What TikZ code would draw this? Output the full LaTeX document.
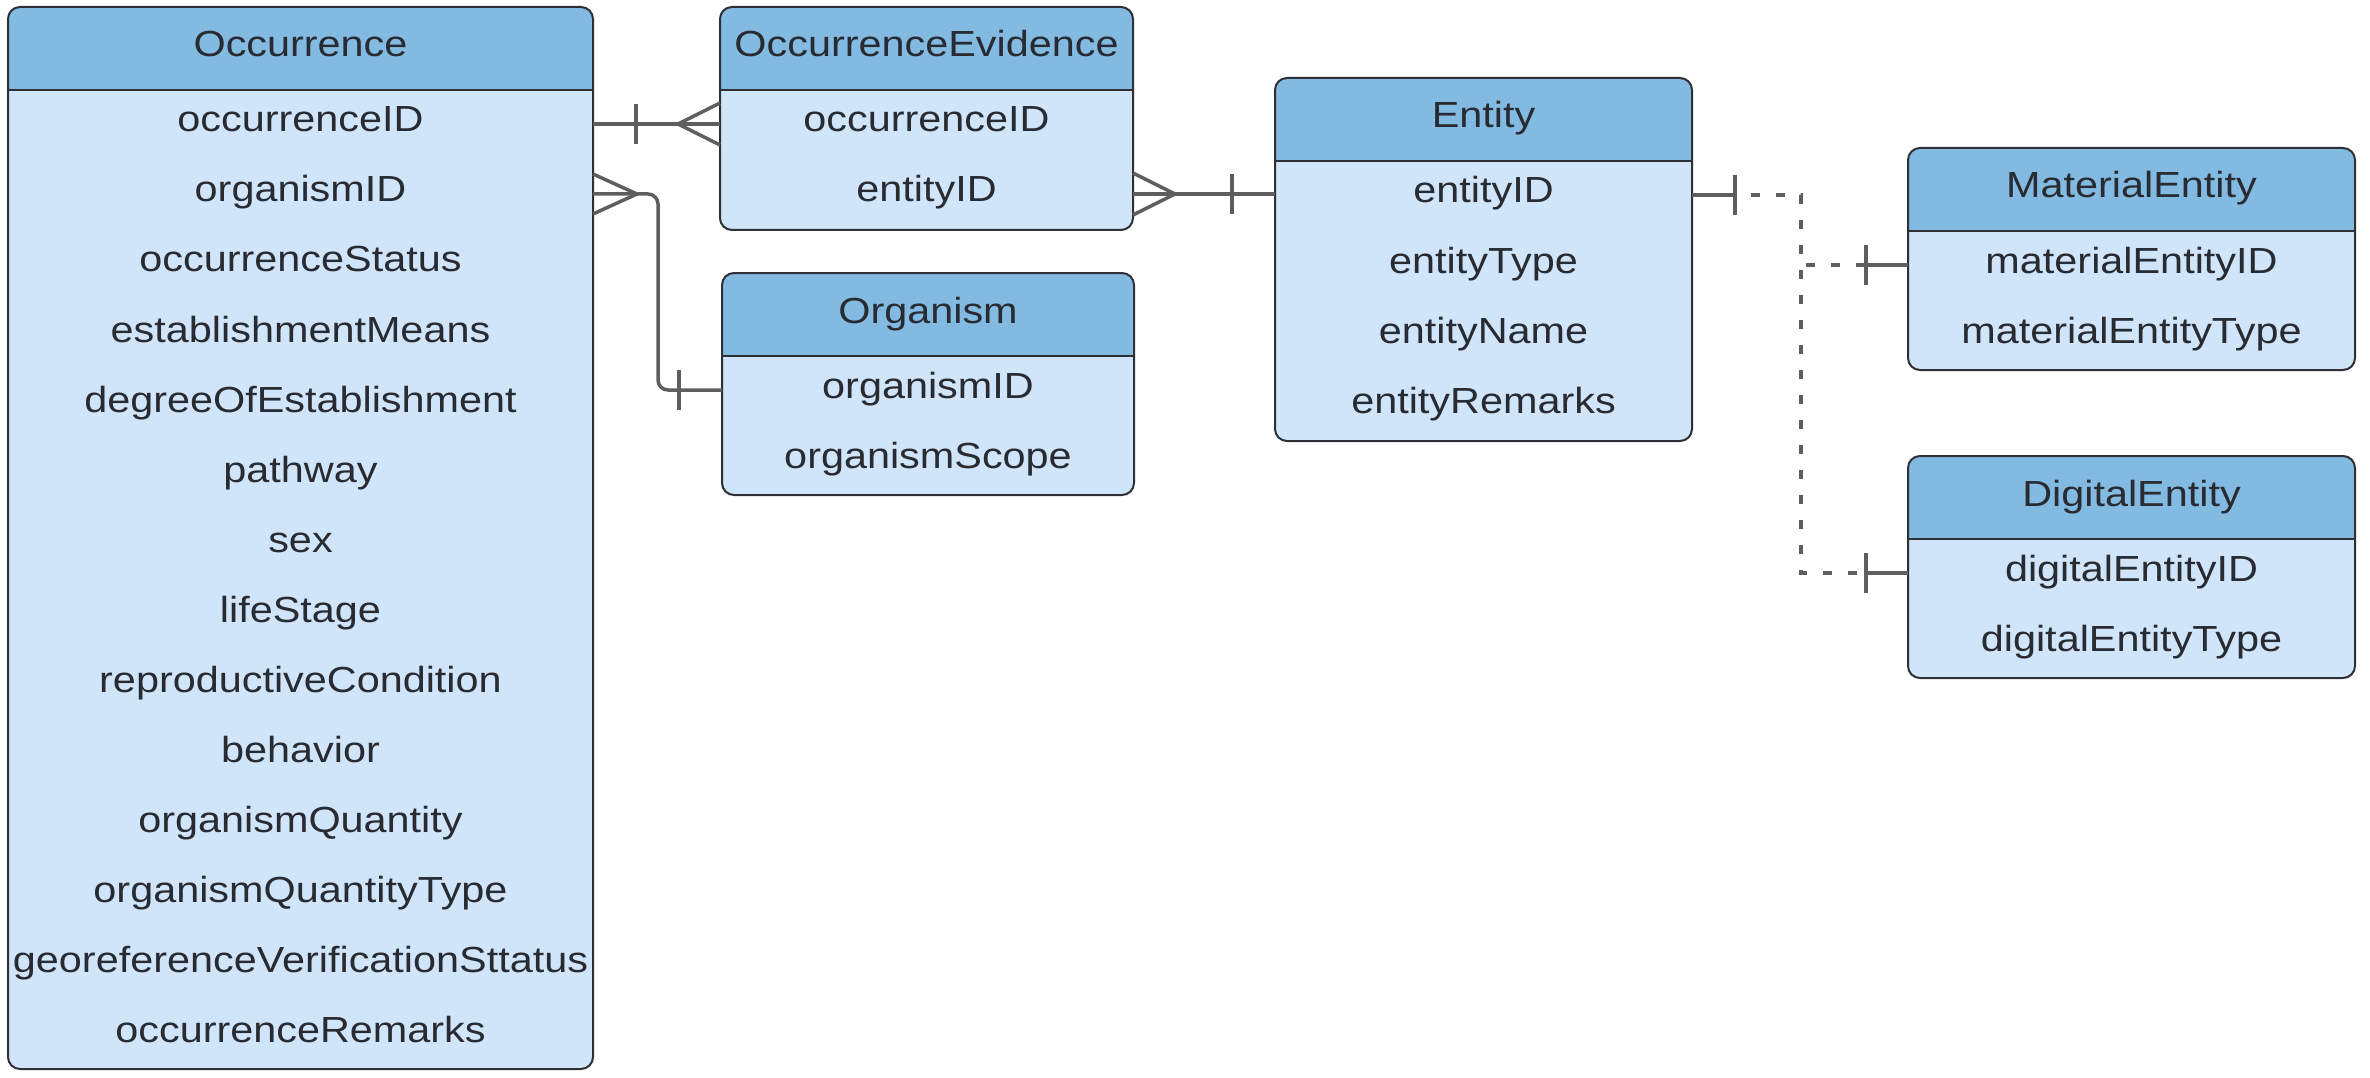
\documentclass[tikz,border=0pt]{standalone}
\usepackage{fontspec}
\setmainfont{Liberation Sans}[FakeStretch=1.14]
\usetikzlibrary{calc}
\definecolor{headc}{HTML}{83BAE2}
\definecolor{bodyc}{HTML}{D0E4FA}
\definecolor{boxc}{HTML}{2E3035}
\definecolor{linec}{HTML}{5E5E5E}
\definecolor{txtc}{HTML}{282B31}
\tikzset{
  tabbody/.style={fill=bodyc, rounded corners=12, inner sep=0pt, outer sep=0pt},
  boxline/.style={draw=boxc, line width=2},
  ertext/.style={text=txtc, font=\fontsize{36.3}{43}\selectfont, inner sep=0pt},
  conn/.style={draw=linec, line width=3.5},
  dashc/.style={dash pattern=on 9 off 16, dash phase=9},
}
\newcommand\ertab[7]{%
  \node[tabbody, minimum width={(#4-#2)*1pt}, minimum height={(#5-#3)*1pt}, anchor=north west] (#1) at (#2,#3) {};
  \begin{scope}
    \clip[rounded corners=12] (#1.north west) rectangle (#1.south east);
    \fill[headc] (#2,#3) rectangle (#4,#3+83);
  \end{scope}
  \draw[boxline] (#2,#3+83) -- (#4,#3+83);
  \draw[boxline, rounded corners=12] (#1.north west) rectangle (#1.south east);
  \node[ertext, anchor=base] (#1-t) at ({(#2+#4)/2},#3+50) {#6};
  \foreach \txt [count=\i] in {#7} {
    \node[ertext, anchor=base] (#1-\i) at ({(#2+#4)/2},{#3+83+42+70*(\i-1)}) {\txt};
    \coordinate (#1-l\i) at ({(#2+#4)/2},{#3+83+34+70*(\i-1)});
  }
}
\begin{document}
\begin{tikzpicture}[x=1pt,y=-1pt]
\fill[white] (0,0) rectangle (2370,1078);
\useasboundingbox (0,0) rectangle (2370,1078);

\ertab{occ}{8}{7}{593}{1069}{Occurrence}{occurrenceID,organismID,occurrenceStatus,establishmentMeans,degreeOfEstablishment,pathway,sex,lifeStage,reproductiveCondition,behavior,organismQuantity,organismQuantityType,georeferenceVerificationSttatus,occurrenceRemarks}
\ertab{occev}{720}{7}{1133}{230}{OccurrenceEvidence}{occurrenceID,entityID}
\ertab{org}{722}{273}{1134}{495}{Organism}{organismID,organismScope}
\ertab{ent}{1275}{78}{1692}{441}{Entity}{entityID,entityType,entityName,entityRemarks}
\ertab{mat}{1908}{148}{2355}{370}{MaterialEntity}{materialEntityID,materialEntityType}
\ertab{dig}{1908}{456}{2355}{678}{DigitalEntity}{digitalEntityID,digitalEntityType}

% Occurrence -- OccurrenceEvidence
\coordinate (c1a) at (occ.east |- occ-l1);
\coordinate (c1b) at (occev.west |- occ-l1);
\draw[conn] (c1a) -- (c1b);
\draw[conn] ($(c1a)+(43,-20)$) -- ($(c1a)+(43,20)$);
\draw[conn] ($(c1b)+(0,-21)$) -- ($(c1b)+(-42,0)$) -- ($(c1b)+(0,21)$);

% Occurrence -- Organism
\coordinate (c2a) at (occ.east |- occ-l2);
\coordinate (c2b) at (org.west |- org-l1);
\draw[conn, rounded corners=10] (c2a) -| ($(c2b)+(-64,0)$) -- (c2b);
\draw[conn] ($(c2a)+(0,-20)$) -- ($(c2a)+(44,0)$) -- ($(c2a)+(0,20)$);
\draw[conn] ($(c2b)+(-43,-20)$) -- ($(c2b)+(-43,20)$);

% OccurrenceEvidence -- Entity
\coordinate (c3a) at (occev.east |- occev-l2);
\coordinate (c3b) at (ent.west |- occev-l2);
\draw[conn] (c3a) -- (c3b);
\draw[conn] ($(c3a)+(0,-21)$) -- ($(c3a)+(42,0)$) -- ($(c3a)+(0,21)$);
\draw[conn] ($(c3b)+(-43,-20)$) -- ($(c3b)+(-43,20)$);

% Entity -- MaterialEntity / DigitalEntity
\coordinate (c4a) at (ent.east |- ent-l1);
\coordinate (c4m) at (mat.west |- mat-l1);
\coordinate (c4d) at (dig.west |- dig-l1);
\coordinate (c4s) at ($(c4a)+(43,0)$);
\coordinate (c4j) at ($(c4a)+(109,0)$);
\coordinate (c4mb) at ($(c4m)+(-42,0)$);
\coordinate (c4db) at ($(c4d)+(-42,0)$);
\draw[conn] (c4a) -- (c4s);
\draw[conn] ($(c4s)+(0,-20)$) -- ($(c4s)+(0,20)$);
\draw[conn, dashc] (c4s) -- (c4j) |- (c4mb);
\draw[conn, dashc] (c4s) -- (c4j) |- (c4db);
\draw[conn] (c4mb) -- (c4m);
\draw[conn] ($(c4mb)+(0,-20)$) -- ($(c4mb)+(0,20)$);
\draw[conn] (c4db) -- (c4d);
\draw[conn] ($(c4db)+(0,-20)$) -- ($(c4db)+(0,20)$);
\end{tikzpicture}
\end{document}
